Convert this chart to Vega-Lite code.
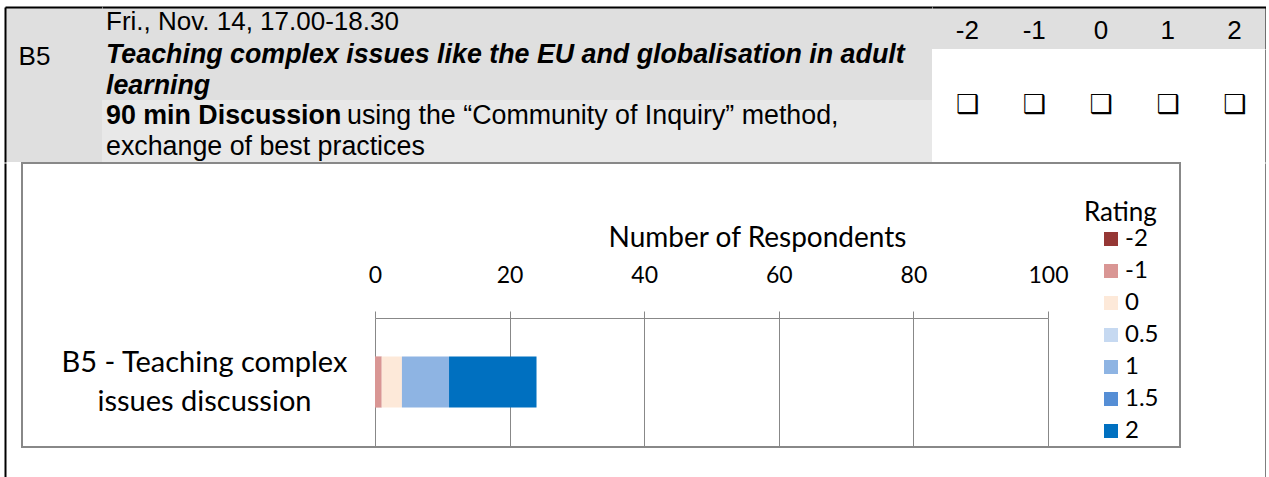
{
  "$schema": "https://vega.github.io/schema/vega-lite/v6.json",
  "padding": {"left": 5, "top": 7, "right": 0, "bottom": 0},
  "background": "white",
  "spacing": 0,
  "config": {"view": {"stroke": null}, "font": "Liberation Sans", "concat": {"spacing": 0}},
  "datasets": {
    "ratings": [
      {"session": "B5 - Teaching complex issues discussion", "rating": -2, "count": 0},
      {"session": "B5 - Teaching complex issues discussion", "rating": -1, "count": 1},
      {"session": "B5 - Teaching complex issues discussion", "rating": 0, "count": 3},
      {"session": "B5 - Teaching complex issues discussion", "rating": 0.5, "count": 0},
      {"session": "B5 - Teaching complex issues discussion", "rating": 1, "count": 7},
      {"session": "B5 - Teaching complex issues discussion", "rating": 1.5, "count": 0},
      {"session": "B5 - Teaching complex issues discussion", "rating": 2, "count": 13}
    ],
    "session": [{"column": "session", "line": "2", "text": "B5"}],
    "header": [
      {"column": "description", "line": "1", "part": "date", "text": "Fri., Nov. 14, 17.00-18.30"},
      {"column": "description", "line": "2", "part": "title", "text": "Teaching complex issues like the EU and globalisation in adult"},
      {"column": "description", "line": "3", "part": "title", "text": "learning"},
      {"column": "description", "line": "4", "part": "format", "text": "90 min Discussion"},
      {"column": "description", "line": "4", "part": "method", "text": "using the “Community of Inquiry” method,"},
      {"column": "description", "line": "5", "part": "practices", "text": "exchange of best practices"}
    ],
    "scale": [{"rating": "-2"}, {"rating": "-1"}, {"rating": "0"}, {"rating": "1"}, {"rating": "2"}]
  },
  "vconcat": [
    {
      "hconcat": [
        {
          "width": 97, "height": 155,
          "view": {"fill": "#dfdfdf", "stroke": null},
          "data": {"name": "session"},
          "mark": {"type": "text", "align": "center", "baseline": "middle", "fontSize": 26, "font": "Liberation Sans", "color": "black", "dx": -19, "dy": 3},
          "encoding": {
            "x": {"field": "column", "type": "nominal", "scale": {"paddingInner": 0, "paddingOuter": 0},
                  "axis": {"orient": "top", "labels": false, "ticks": false, "title": null, "domainColor": "black", "domainWidth": 2}},
            "y": {"field": "line", "type": "ordinal", "scale": {"domain": ["1", "2", "3", "4", "5"], "paddingInner": 0, "paddingOuter": 0},
                  "axis": {"orient": "left", "labels": false, "ticks": false, "title": null, "domainColor": "black", "domainWidth": 2, "minExtent": 0}},
            "text": {"field": "text"}
          }
        },
        {
          "width": 830, "height": 155,
          "view": {"fill": "#dfdfdf", "stroke": null},
          "data": {"name": "header"},
          "encoding": {
            "x": {"field": "column", "type": "nominal", "bandPosition": 0, "scale": {"paddingInner": 0, "paddingOuter": 0},
                  "axis": {"orient": "top", "labels": false, "ticks": false, "title": null, "domainColor": "black", "domainWidth": 2}},
            "y": {"field": "line", "type": "ordinal", "scale": {"domain": ["1", "2", "3", "4", "5"], "paddingInner": 0, "paddingOuter": 0}, "axis": null},
            "text": {"field": "text"}
          },
          "layer": [
            {
              "transform": [{"filter": "datum.line == '4' || datum.line == '5'"}],
              "mark": {"type": "rect", "color": "#e8e8e8"},
              "encoding": {"x": {"field": "column", "type": "nominal"}, "text": null}
            },
            {
              "transform": [{"filter": "datum.part == 'date'"}],
              "mark": {"type": "text", "align": "left", "baseline": "middle", "fontSize": 26, "color": "black", "dx": 4, "dy": -1}
            },
            {
              "transform": [{"filter": "datum.part == 'practices'"}],
              "mark": {"type": "text", "align": "left", "baseline": "middle", "fontSize": 26.8, "color": "black", "dx": 4}
            },
            {
              "transform": [{"filter": "datum.part == 'title'"}],
              "mark": {"type": "text", "align": "left", "baseline": "middle", "fontSize": 26.8, "fontWeight": "bold", "fontStyle": "italic", "color": "black", "dx": 4, "dy": 1}
            },
            {
              "transform": [{"filter": "datum.part == 'format'"}],
              "mark": {"type": "text", "align": "left", "baseline": "middle", "fontSize": 26.8, "fontWeight": "bold", "color": "black", "dx": 4}
            },
            {
              "transform": [{"filter": "datum.part == 'method'"}],
              "mark": {"type": "text", "align": "left", "baseline": "middle", "fontSize": 26.8, "color": "black", "dx": 245}
            }
          ]
        },
        {
          "vconcat": [
            {
              "width": 334, "height": 42,
              "view": {"fill": "#dfdfdf", "stroke": null},
              "data": {"name": "scale"},
              "mark": {"type": "text", "baseline": "middle", "fontSize": 26, "color": "black", "dy": 3, "dx": 2},
              "encoding": {
                "x": {"field": "rating", "type": "ordinal", "sort": null, "scale": {"domain": ["-2", "-1", "0", "1", "2"], "paddingInner": 0, "paddingOuter": 0},
                      "axis": {"orient": "top", "labels": false, "ticks": false, "title": null, "domainColor": "black", "domainWidth": 2}},
                "y": {"datum": "scale", "type": "nominal", "scale": {"paddingInner": 0, "paddingOuter": 0},
                      "axis": {"orient": "right", "labels": false, "ticks": false, "title": null, "domainColor": "black", "domainWidth": 2, "minExtent": 0}},
                "text": {"field": "rating"}
              }
            },
            {
              "width": 334, "height": 113,
              "view": {"fill": "white", "stroke": null},
              "data": {"name": "scale"},
              "mark": {"type": "text", "text": "❑", "baseline": "middle", "font": "DejaVu Sans", "fontSize": 26, "fontWeight": "bold", "color": "black", "dx": 2, "dy": -1},
              "encoding": {
                "x": {"field": "rating", "type": "ordinal", "sort": null, "scale": {"domain": ["-2", "-1", "0", "1", "2"], "paddingInner": 0, "paddingOuter": 0}, "axis": null},
                "y": {"datum": "checkbox", "type": "nominal", "scale": {"paddingInner": 0, "paddingOuter": 0},
                      "axis": {"orient": "right", "labels": false, "ticks": false, "title": null, "domainColor": "black", "domainWidth": 2, "minExtent": 0}}
              }
            }
          ],
          "spacing": 0,
          "bounds": "flush"
        }
      ],
      "spacing": 0
    },
    {
      "hconcat": [
        {
          "width": 17, "height": 314,
          "data": {"name": "scale"},
          "mark": {"type": "point", "opacity": 0},
          "encoding": {
            "y": {"datum": "border", "type": "nominal", "scale": {"paddingInner": 0, "paddingOuter": 0},
                  "axis": {"orient": "left", "labels": false, "ticks": false, "title": null, "domainColor": "black", "domainWidth": 2, "minExtent": 0}}
          }
        },
        {
          "width": 1158, "height": 284,
          "view": {"stroke": "#888888", "strokeWidth": 2, "fill": "white"},
          "data": {"name": "ratings"},
          "mark": {"type": "bar"},
          "encoding": {
            "y": {"field": "session", "type": "nominal",
                  "scale": {"range": [155, 283], "paddingInner": 0.6},
                  "axis": {"orient": "left", "offset": -353, "domain": false, "ticks": false, "tickSize": 0, "grid": false,
                           "labelPadding": 171, "labelAlign": "center", "labelBaseline": "middle", "labelFont": "Lato", "labelFontSize": 29,
                           "labelColor": "black", "labelLineHeight": 39, "labelLimit": 0, "labelOffset": -19.5,
                           "labelExpr": "[slice(datum.label, 0, 21), slice(datum.label, 22)]", "title": null}},
            "x": {"field": "count", "type": "quantitative", "stack": "zero",
                  "scale": {"domain": [0, 100], "range": [353, 1026], "nice": false},
                  "axis": {"orient": "top", "offset": -155, "values": [0, 20, 40, 60, 80, 100],
                           "domainColor": "#888888", "domainWidth": 1, "tickColor": "#888888", "tickSize": 7,
                           "grid": true, "gridColor": "#888888", "gridWidth": 1,
                           "labelFont": "Lato", "labelFontSize": 23, "labelColor": "black", "labelPadding": 24, "labelFlush": false,
                           "title": "Number of Respondents", "titleFont": "Lato", "titleFontSize": 28, "titleFontWeight": "normal",
                           "titleColor": "black", "titlePadding": 12, "titleX": 735}},
            "color": {"field": "rating", "type": "ordinal",
                      "scale": {"domain": [-2, -1, 0, 0.5, 1, 1.5, 2],
                                "range": ["#953735", "#d99694", "#fde9d9", "#c6d9f1", "#8eb4e3", "#558ed5", "#0070c0"]},
                      "legend": {"title": "Rating", "orient": "none", "legendX": 1079, "legendY": 193,
                                 "titleFont": "Lato", "titleFontSize": 26, "titleFontWeight": "normal", "titleColor": "black", "titlePadding": 1,
                                 "labelFont": "Lato", "labelFontSize": 24, "labelColor": "black",
                                 "symbolType": "square", "symbolSize": 196, "symbolStrokeWidth": 0, "symbolOffset": 15,
                                 "labelOffset": 2, "rowPadding": 8, "padding": 0}},
            "order": {"field": "rating", "type": "quantitative", "sort": "ascending"}
          }
        },
        {
          "width": 86, "height": 314,
          "data": {"name": "scale"},
          "mark": {"type": "point", "opacity": 0},
          "encoding": {
            "y": {"datum": "border", "type": "nominal", "scale": {"paddingInner": 0, "paddingOuter": 0},
                  "axis": {"orient": "right", "labels": false, "ticks": false, "title": null, "domainColor": "black", "domainWidth": 2, "minExtent": 0}}
          }
        }
      ],
      "spacing": 0,
      "bounds": "flush"
    }
  ]
}
